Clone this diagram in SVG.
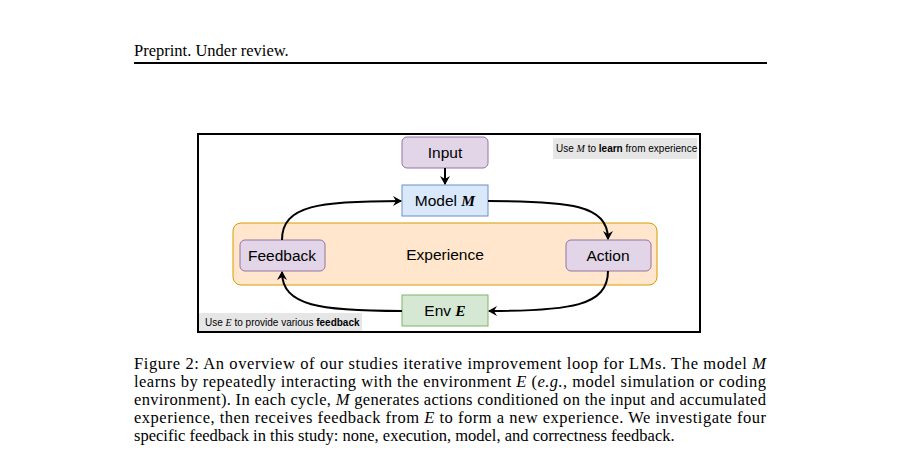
<svg xmlns="http://www.w3.org/2000/svg" width="902" height="470" viewBox="0 0 902 470">
<style>
.t{font-family:"Liberation Serif",serif;font-size:16.5px;fill:#000}
.n{font-family:"Liberation Sans",Arial,sans-serif;font-size:15.5px;fill:#000;text-anchor:middle}
.s{font-family:"Liberation Sans",Arial,sans-serif;font-size:10px;fill:#000}
.p{fill:#e1d5e7;stroke:#9673a6;stroke-width:1}
.c{fill:none;stroke:#000;stroke-width:2;marker-end:url(#a)}
.m{font-family:"Liberation Serif",serif;font-style:italic}
</style>
<defs><marker id="a" markerWidth="10" markerHeight="10" refX="8" refY="5" orient="auto" markerUnits="userSpaceOnUse"><path d="M0,0 L9,5 L0,10 L3,5 Z" fill="#000"/></marker></defs>
<rect width="902" height="470" fill="#fff"/>
<text class="t" x="134" y="56">Preprint. Under review.</text>
<rect x="134" y="62" width="633" height="2" fill="#000"/>
<rect x="198" y="134" width="502" height="198" fill="#fff" stroke="#000" stroke-width="2"/>
<g id="labels">
<rect x="553" y="138" width="144" height="21" fill="#e6e6e6"/>
<text class="s" x="556" y="152">Use <tspan class="m">M</tspan> to <tspan font-weight="bold">learn</tspan> from experience</text>
<rect x="199" y="313" width="163" height="18" fill="#e6e6e6"/>
<text class="s" x="205" y="326">Use <tspan class="m">E</tspan> to provide various <tspan font-weight="bold">feedback</tspan></text>
</g>
<g id="experience"><rect x="233" y="223" width="424" height="62" rx="8" fill="#ffe6cc" stroke="#d79b00" stroke-width="1"/><text class="n" x="445" y="260">Experience</text></g>
<g id="input"><rect class="p" x="402" y="137" width="86" height="31" rx="5"/><text class="n" x="445" y="158">Input</text></g>
<g id="model"><rect x="402" y="185" width="86" height="31" fill="#dae8fc" stroke="#6c8ebf"/><text class="n" x="445" y="206">Model <tspan class="m" font-weight="bold">M</tspan></text></g>
<g id="feedback"><rect class="p" x="240" y="240" width="85" height="31" rx="5"/><text class="n" x="282" y="261">Feedback</text></g>
<g id="action"><rect class="p" x="566" y="240" width="85" height="31" rx="5"/><text class="n" x="608" y="261">Action</text></g>
<g id="env"><rect x="402" y="295" width="86" height="31" fill="#d5e8d4" stroke="#82b366"/><text class="n" x="445" y="316">Env <tspan class="m" font-weight="bold">E</tspan></text></g>
<g id="connectors">
<path class="c" d="M445,168 L445,184"/>
<path class="c" d="M282,240 C282,205 320,201 401,201"/>
<path class="c" d="M488,201 C570,201 608,205 608,239"/>
<path class="c" d="M608,271 C608,306 570,311 489,311"/>
<path class="c" d="M402,311 C320,311 282,306 282,272"/>
</g>
<g id="caption">
<text class="t" x="134" y="369" textLength="632" lengthAdjust="spacing">Figure 2: An overview of our studies iterative improvement loop for LMs. The model <tspan class="m">M</tspan></text>
<text class="t" x="134" y="387" textLength="632" lengthAdjust="spacing">learns by repeatedly interacting with the environment <tspan class="m">E</tspan> (<tspan font-style="italic">e.g.</tspan>, model simulation or coding</text>
<text class="t" x="134" y="405" textLength="632" lengthAdjust="spacing">environment). In each cycle, <tspan class="m">M</tspan> generates actions conditioned on the input and accumulated</text>
<text class="t" x="134" y="423" textLength="632" lengthAdjust="spacing">experience, then receives feedback from <tspan class="m">E</tspan> to form a new experience. We investigate four</text>
<text class="t" x="134" y="441">specific feedback in this study: none, execution, model, and correctness feedback.</text>
</g>
</svg>
